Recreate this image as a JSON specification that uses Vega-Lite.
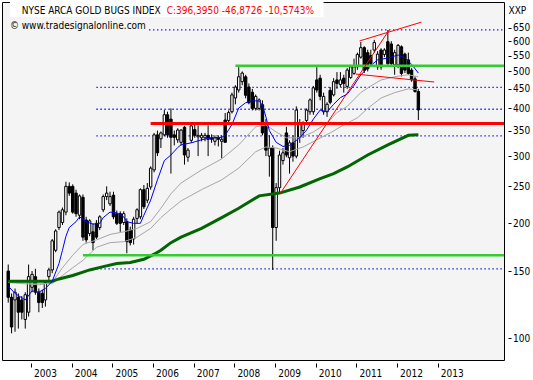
{
"$schema":"https://vega.github.io/schema/vega-lite/v6.json",
"width":502,"height":358,
"autosize":{"type":"none"},
"padding":{"left":2,"top":2,"right":29,"bottom":20},
"background":"white",
"config":{"view":{"stroke":"black","strokeWidth":1,"fill":"#f4f4f4"},"font":"DejaVu Sans Condensed, DejaVu Sans",
"axis":{"labelFont":"DejaVu Sans Condensed, DejaVu Sans","labelFontSize":10,"labelColor":"black","tickColor":"black","domain":false,"grid":false,"titleFont":"DejaVu Sans Condensed, DejaVu Sans","titleFontWeight":"normal","titleFontSize":10,"titleColor":"black"}},
"datasets":{
"k":[
{"d":"2002-04-01","o":150,"h":156,"l":124,"c":128},{"d":"2002-05-01","o":128,"h":131,"l":103,"c":107},{"d":"2002-06-01","o":126,"h":135,"l":104,"c":132},{"d":"2002-07-01","o":128,"h":131,"l":106,"c":117},{"d":"2002-08-01","o":126,"h":129,"l":112,"c":117},{"d":"2002-09-01","o":112,"h":132,"l":106,"c":130},{"d":"2002-10-01","o":117,"h":156,"l":114,"c":145},{"d":"2002-11-01","o":136,"h":150,"l":132,"c":147},{"d":"2002-12-01","o":145,"h":152,"l":130,"c":132},
{"d":"2003-01-01","o":132,"h":135,"l":117,"c":124},{"d":"2003-02-01","o":131,"h":134,"l":120,"c":124},{"d":"2003-03-01","o":126,"h":142,"l":121,"c":140},{"d":"2003-04-01","o":145,"h":153,"l":140,"c":151},{"d":"2003-05-01","o":151,"h":182,"l":148,"c":180},{"d":"2003-06-01","o":170,"h":193,"l":168,"c":191},{"d":"2003-07-01","o":195,"h":216,"l":192,"c":214},{"d":"2003-08-01","o":201,"h":220,"l":198,"c":217},{"d":"2003-09-01","o":214,"h":257,"l":210,"c":250},{"d":"2003-10-01","o":250,"h":256,"l":236,"c":240},{"d":"2003-11-01","o":250,"h":253,"l":212,"c":214},{"d":"2003-12-01","o":240,"h":245,"l":208,"c":212},
{"d":"2004-01-01","o":210,"h":238,"l":205,"c":236},{"d":"2004-02-01","o":234,"h":238,"l":180,"c":184},{"d":"2004-03-01","o":204,"h":208,"l":178,"c":181},{"d":"2004-04-01","o":188,"h":205,"l":185,"c":203},{"d":"2004-05-01","o":190,"h":200,"l":170,"c":178},{"d":"2004-06-01","o":200,"h":204,"l":182,"c":184},{"d":"2004-07-01","o":195,"h":210,"l":192,"c":208},{"d":"2004-08-01","o":217,"h":238,"l":214,"c":235},{"d":"2004-09-01","o":235,"h":250,"l":230,"c":240},{"d":"2004-10-01","o":225,"h":242,"l":222,"c":235},{"d":"2004-11-01","o":237,"h":242,"l":205,"c":208},{"d":"2004-12-01","o":212,"h":216,"l":198,"c":200},
{"d":"2005-01-01","o":212,"h":215,"l":190,"c":200},{"d":"2005-02-01","o":201,"h":215,"l":198,"c":212},{"d":"2005-03-01","o":202,"h":206,"l":167,"c":179},{"d":"2005-04-01","o":192,"h":196,"l":175,"c":178},{"d":"2005-05-01","o":182,"h":208,"l":176,"c":205},{"d":"2005-06-01","o":206,"h":219,"l":200,"c":217},{"d":"2005-07-01","o":208,"h":247,"l":205,"c":245},{"d":"2005-08-01","o":245,"h":252,"l":218,"c":221},{"d":"2005-09-01","o":230,"h":255,"l":226,"c":247},{"d":"2005-10-01","o":249,"h":282,"l":245,"c":279},{"d":"2005-11-01","o":276,"h":345,"l":272,"c":341},{"d":"2005-12-01","o":341,"h":350,"l":300,"c":306},
{"d":"2006-01-01","o":333,"h":348,"l":315,"c":345},{"d":"2006-02-01","o":341,"h":396,"l":338,"c":385},{"d":"2006-03-01","o":385,"h":392,"l":335,"c":341},{"d":"2006-04-01","o":375,"h":400,"l":270,"c":336},{"d":"2006-05-01","o":341,"h":350,"l":320,"c":336},{"d":"2006-06-01","o":331,"h":355,"l":325,"c":351},{"d":"2006-07-01","o":326,"h":353,"l":320,"c":351},{"d":"2006-08-01","o":357,"h":360,"l":285,"c":302},{"d":"2006-09-01","o":298,"h":315,"l":290,"c":311},{"d":"2006-10-01","o":330,"h":362,"l":325,"c":360},{"d":"2006-11-01","o":352,"h":362,"l":335,"c":340},{"d":"2006-12-01","o":337,"h":361,"l":300,"c":340},
{"d":"2007-01-01","o":335,"h":345,"l":328,"c":340},{"d":"2007-02-01","o":335,"h":345,"l":328,"c":340},{"d":"2007-03-01","o":340,"h":361,"l":300,"c":332},{"d":"2007-04-01","o":335,"h":342,"l":325,"c":332},{"d":"2007-05-01","o":328,"h":340,"l":320,"c":335},{"d":"2007-06-01","o":335,"h":340,"l":318,"c":332},{"d":"2007-07-01","o":328,"h":340,"l":296,"c":332},{"d":"2007-08-01","o":373,"h":389,"l":326,"c":326},{"d":"2007-09-01","o":372,"h":395,"l":368,"c":390},{"d":"2007-10-01","o":392,"h":440,"l":388,"c":434},{"d":"2007-11-01","o":426,"h":460,"l":410,"c":455},{"d":"2007-12-01","o":447,"h":513,"l":440,"c":484},
{"d":"2008-01-01","o":470,"h":500,"l":460,"c":495},{"d":"2008-02-01","o":484,"h":490,"l":425,"c":433},{"d":"2008-03-01","o":455,"h":465,"l":410,"c":414},{"d":"2008-04-01","o":441,"h":450,"l":395,"c":400},{"d":"2008-05-01","o":400,"h":435,"l":395,"c":430},{"d":"2008-06-01","o":400,"h":425,"l":395,"c":421},{"d":"2008-07-01","o":409,"h":420,"l":340,"c":345},{"d":"2008-08-01","o":367,"h":375,"l":300,"c":311},{"d":"2008-09-01","o":300,"h":340,"l":265,"c":315},{"d":"2008-10-01","o":315,"h":320,"l":151,"c":195},{"d":"2008-11-01","o":195,"h":255,"l":180,"c":248},{"d":"2008-12-01","o":248,"h":310,"l":240,"c":302},
{"d":"2009-01-01","o":292,"h":315,"l":285,"c":306},{"d":"2009-02-01","o":345,"h":358,"l":298,"c":302},{"d":"2009-03-01","o":297,"h":330,"l":270,"c":325},{"d":"2009-04-01","o":325,"h":340,"l":290,"c":300},{"d":"2009-05-01","o":300,"h":405,"l":296,"c":396},{"d":"2009-06-01","o":336,"h":375,"l":325,"c":367},{"d":"2009-07-01","o":350,"h":370,"l":335,"c":363},{"d":"2009-08-01","o":372,"h":400,"l":365,"c":396},{"d":"2009-09-01","o":392,"h":425,"l":385,"c":421},{"d":"2009-10-01","o":392,"h":458,"l":385,"c":453},{"d":"2009-11-01","o":475,"h":513,"l":440,"c":447},{"d":"2009-12-01","o":480,"h":490,"l":420,"c":430},
{"d":"2010-01-01","o":392,"h":440,"l":385,"c":430},{"d":"2010-02-01","o":392,"h":415,"l":380,"c":410},{"d":"2010-03-01","o":446,"h":455,"l":410,"c":415},{"d":"2010-04-01","o":434,"h":480,"l":430,"c":470},{"d":"2010-05-01","o":475,"h":498,"l":450,"c":465},{"d":"2010-06-01","o":462,"h":498,"l":455,"c":475},{"d":"2010-07-01","o":480,"h":490,"l":440,"c":465},{"d":"2010-08-01","o":457,"h":510,"l":450,"c":504},{"d":"2010-09-01","o":482,"h":520,"l":478,"c":514},{"d":"2010-10-01","o":494,"h":540,"l":490,"c":514},{"d":"2010-11-01","o":514,"h":560,"l":505,"c":554},{"d":"2010-12-01","o":545,"h":597,"l":540,"c":577},
{"d":"2011-01-01","o":577,"h":582,"l":495,"c":504},{"d":"2011-02-01","o":560,"h":570,"l":500,"c":508},{"d":"2011-03-01","o":550,"h":570,"l":515,"c":525},{"d":"2011-04-01","o":569,"h":605,"l":560,"c":595},{"d":"2011-05-01","o":514,"h":565,"l":505,"c":555},{"d":"2011-06-01","o":569,"h":575,"l":505,"c":514},{"d":"2011-07-01","o":554,"h":575,"l":545,"c":569},{"d":"2011-08-01","o":598,"h":642,"l":520,"c":524},{"d":"2011-09-01","o":590,"h":600,"l":515,"c":524},{"d":"2011-10-01","o":520,"h":570,"l":490,"c":560},{"d":"2011-11-01","o":520,"h":590,"l":510,"c":585},{"d":"2011-12-01","o":580,"h":585,"l":485,"c":494},
{"d":"2012-01-01","o":555,"h":560,"l":495,"c":504},{"d":"2012-02-01","o":536,"h":560,"l":490,"c":494},{"d":"2012-03-01","o":504,"h":510,"l":470,"c":475},{"d":"2012-04-01","o":478,"h":485,"l":440,"c":443},{"d":"2012-05-01","o":443,"h":450,"l":373,"c":396.395}
],
"ma":[
{"s":"b","d":"2002-04-01","v":137},{"s":"b","d":"2002-06-01","v":131},{"s":"b","d":"2002-09-01","v":126},{"s":"b","d":"2002-11-01","v":133},{"s":"b","d":"2003-01-01","v":132},{"s":"b","d":"2003-03-01","v":135},{"s":"b","d":"2003-05-01","v":141},{"s":"b","d":"2003-07-01","v":157},{"s":"b","d":"2003-08-01","v":170},{"s":"b","d":"2003-09-01","v":185},{"s":"b","d":"2003-10-01","v":195},{"s":"b","d":"2003-12-01","v":202},{"s":"b","d":"2004-01-01","v":208},{"s":"b","d":"2004-03-01","v":202},{"s":"b","d":"2004-05-01","v":199},{"s":"b","d":"2004-07-01","v":200},{"s":"b","d":"2004-08-01","v":207},{"s":"b","d":"2004-10-01","v":214},{"s":"b","d":"2004-12-01","v":213},{"s":"b","d":"2005-02-01","v":208},{"s":"b","d":"2005-03-01","v":202},{"s":"b","d":"2005-05-01","v":200},{"s":"b","d":"2005-07-01","v":200},{"s":"b","d":"2005-08-01","v":210},{"s":"b","d":"2005-10-01","v":230},{"s":"b","d":"2005-12-01","v":260},{"s":"b","d":"2006-02-01","v":292},{"s":"b","d":"2006-04-01","v":302},{"s":"b","d":"2006-06-01","v":316},{"s":"b","d":"2006-07-01","v":321},{"s":"b","d":"2006-10-01","v":325},{"s":"b","d":"2007-01-01","v":331},{"s":"b","d":"2007-04-01","v":335},{"s":"b","d":"2007-07-01","v":336},{"s":"b","d":"2007-08-01","v":340},{"s":"b","d":"2007-10-01","v":363},{"s":"b","d":"2007-12-01","v":401},{"s":"b","d":"2008-02-01","v":414},{"s":"b","d":"2008-04-01","v":419},{"s":"b","d":"2008-06-01","v":418},{"s":"b","d":"2008-07-01","v":408},{"s":"b","d":"2008-08-01","v":380},{"s":"b","d":"2008-09-01","v":350},{"s":"b","d":"2008-11-01","v":326},{"s":"b","d":"2009-01-01","v":318},{"s":"b","d":"2009-03-01","v":320},{"s":"b","d":"2009-06-01","v":335},{"s":"b","d":"2009-08-01","v":351},{"s":"b","d":"2009-10-01","v":375},{"s":"b","d":"2009-12-01","v":396},{"s":"b","d":"2010-02-01","v":392},{"s":"b","d":"2010-04-01","v":410},{"s":"b","d":"2010-06-01","v":427},{"s":"b","d":"2010-08-01","v":436},{"s":"b","d":"2010-10-01","v":460},{"s":"b","d":"2010-12-01","v":490},{"s":"b","d":"2011-02-01","v":510},{"s":"b","d":"2011-05-01","v":536},{"s":"b","d":"2011-08-01","v":542},{"s":"b","d":"2011-11-01","v":552},{"s":"b","d":"2012-01-01","v":543},{"s":"b","d":"2012-03-01","v":522},{"s":"b","d":"2012-05-01","v":495},
{"s":"g1","d":"2002-04-01","v":140},{"s":"g1","d":"2003-01-01","v":138},{"s":"g1","d":"2003-05-01","v":140},{"s":"g1","d":"2003-08-01","v":153},{"s":"g1","d":"2003-11-01","v":165},{"s":"g1","d":"2004-02-01","v":176},{"s":"g1","d":"2004-06-01","v":181},{"s":"g1","d":"2004-10-01","v":187},{"s":"g1","d":"2005-02-01","v":190},{"s":"g1","d":"2005-06-01","v":194},{"s":"g1","d":"2005-10-01","v":202},{"s":"g1","d":"2006-01-01","v":219},{"s":"g1","d":"2006-04-01","v":239},{"s":"g1","d":"2006-07-01","v":255},{"s":"g1","d":"2007-01-01","v":276},{"s":"g1","d":"2007-07-01","v":295},{"s":"g1","d":"2007-12-01","v":321},{"s":"g1","d":"2008-05-01","v":358},{"s":"g1","d":"2008-08-01","v":362},{"s":"g1","d":"2008-11-01","v":347},{"s":"g1","d":"2009-02-01","v":335},{"s":"g1","d":"2009-06-01","v":335},{"s":"g1","d":"2009-10-01","v":347},{"s":"g1","d":"2010-02-01","v":366},{"s":"g1","d":"2010-05-01","v":390},{"s":"g1","d":"2010-08-01","v":405},{"s":"g1","d":"2010-12-01","v":440},{"s":"g1","d":"2011-03-01","v":458},{"s":"g1","d":"2011-06-01","v":475},{"s":"g1","d":"2011-11-01","v":486},{"s":"g1","d":"2012-02-01","v":490},{"s":"g1","d":"2012-05-01","v":484},
{"s":"g2","d":"2002-04-01","v":140},{"s":"g2","d":"2003-05-01","v":139},{"s":"g2","d":"2003-08-01","v":146},{"s":"g2","d":"2003-11-01","v":153},{"s":"g2","d":"2004-02-01","v":160},{"s":"g2","d":"2004-06-01","v":173},{"s":"g2","d":"2004-10-01","v":178},{"s":"g2","d":"2005-02-01","v":179},{"s":"g2","d":"2005-06-01","v":184},{"s":"g2","d":"2005-10-01","v":194},{"s":"g2","d":"2006-01-01","v":207},{"s":"g2","d":"2006-04-01","v":218},{"s":"g2","d":"2006-07-01","v":229},{"s":"g2","d":"2007-01-01","v":245},{"s":"g2","d":"2007-07-01","v":260},{"s":"g2","d":"2007-12-01","v":279},{"s":"g2","d":"2008-05-01","v":308},{"s":"g2","d":"2008-08-01","v":317},{"s":"g2","d":"2008-11-01","v":315},{"s":"g2","d":"2009-03-01","v":308},{"s":"g2","d":"2009-07-01","v":317},{"s":"g2","d":"2009-11-01","v":331},{"s":"g2","d":"2010-03-01","v":345},{"s":"g2","d":"2010-07-01","v":362},{"s":"g2","d":"2010-11-01","v":378},{"s":"g2","d":"2011-02-01","v":400},{"s":"g2","d":"2011-06-01","v":426},{"s":"g2","d":"2011-10-01","v":440},{"s":"g2","d":"2012-02-01","v":450},{"s":"g2","d":"2012-05-01","v":447},
{"s":"gr","d":"2002-04-01","v":141},{"s":"gr","d":"2003-05-01","v":141},{"s":"gr","d":"2003-07-01","v":143},{"s":"gr","d":"2003-11-01","v":146},{"s":"gr","d":"2004-02-01","v":149},{"s":"gr","d":"2004-04-01","v":151},{"s":"gr","d":"2004-08-01","v":154},{"s":"gr","d":"2004-12-01","v":157},{"s":"gr","d":"2005-04-01","v":158},{"s":"gr","d":"2005-08-01","v":161},{"s":"gr","d":"2005-11-01","v":166},{"s":"gr","d":"2006-01-01","v":170},{"s":"gr","d":"2006-04-01","v":178},{"s":"gr","d":"2006-07-01","v":184},{"s":"gr","d":"2007-01-01","v":194},{"s":"gr","d":"2007-07-01","v":207},{"s":"gr","d":"2007-12-01","v":219},{"s":"gr","d":"2008-06-01","v":236},{"s":"gr","d":"2008-12-01","v":240},{"s":"gr","d":"2009-06-01","v":249},{"s":"gr","d":"2009-12-01","v":262},{"s":"gr","d":"2010-04-01","v":270},{"s":"gr","d":"2010-08-01","v":281},{"s":"gr","d":"2011-02-01","v":302},{"s":"gr","d":"2011-08-01","v":321},{"s":"gr","d":"2012-02-01","v":340},{"s":"gr","d":"2012-05-01","v":341}
],
"hl":[
{"k":"dot","d":"2005-09-17","v":642},{"k":"dot","d":"2004-06-01","v":454},{"k":"dot","d":"2004-06-01","v":398},{"k":"dot","d":"2004-06-01","v":339},{"k":"dot","d":"2004-06-01","v":152},
{"k":"green","d":"2007-11-01","v":517},{"k":"green","d":"2004-02-01","v":165},
{"k":"red","d":"2005-10-01","v":365}
],
"tl":[
{"g":"a","d":"2008-12-10","v":240},{"g":"a","d":"2011-08-13","v":642},
{"g":"b","d":"2010-11-20","v":601},{"g":"b","d":"2012-05-28","v":673},
{"g":"c","d":"2010-10-18","v":492},{"g":"c","d":"2012-09-20","v":469}
],
"tx":[
{"t":"NYSE ARCA GOLD BUGS INDEX","col":"black","line":1,"d":"2002-07-31","v":707},
{"t":"C:396,3950 -46,8726 -10,5743%","col":"red","line":1,"d":"2006-02-22","v":707},
{"t":"© www.tradesignalonline.com","col":"black","line":2,"d":"2002-04-16","v":646}
],
"box":[{"d":"2002-04-16","d2":"2010-01-01","v":760,"v2":694}]
},
"encoding":{
 "x":{"field":"d","type":"temporal","scale":{"type":"time","nice":false,"domain":[{"year":2002,"month":3,"date":21},{"year":2014,"month":4,"date":25}]},
   "axis":{"orient":"bottom","title":null,"values":[{"year":2003},{"year":2004},{"year":2005},{"year":2006},{"year":2007},{"year":2008},{"year":2009},{"year":2010},{"year":2011},{"year":2012},{"year":2013}],"format":"%Y","offset":3,"tickSize":4,"labelPadding":1,"labelAlign":"left","labelBaseline":"top","tickOffset":-7.8,"labelOffset":2.5,"labelOverlap":false,"labelFlush":false}},
 "y":{"field":"v","type":"quantitative","scale":{"type":"log","nice":false,"domain":[87.7,760]},
   "axis":{"orient":"right","title":"XXP","titleAngle":0,"titleX":0,"titleY":8,"titleAlign":"left","titleBaseline":"middle","values":[100,150,200,250,300,350,400,450,500,550,600,650],"format":"d","offset":4,"tickSize":3,"labelPadding":1.5,"labelOverlap":false,"labelFlush":false}}
},
"layer":[
{"data":{"name":"box"},
 "mark":{"type":"rect","fill":"white","clip":true},
 "encoding":{"x2":{"field":"d2"},"y2":{"field":"v2"}}},
{"data":{"name":"hl"},"transform":[{"filter":"datum.k == 'dot'"}],
 "mark":{"type":"rule","color":"#0000ff","strokeWidth":1.3,"strokeDash":[1.3,2.7],"clip":true},
 "encoding":{"x2":{"datum":{"year":2015,"month":1,"date":1}}}},
{"data":{"name":"k"},
 "mark":{"type":"rule","color":"black","strokeWidth":1,"clip":true},
 "encoding":{
  "y":{"field":"l","type":"quantitative","scale":{"type":"log","nice":false,"domain":[87.7,760]},
   "axis":{"orient":"right","title":"XXP","titleAngle":0,"titleX":0,"titleY":8,"titleAlign":"left","titleBaseline":"middle","values":[100,150,200,250,300,350,400,450,500,550,600,650],"format":"d","offset":4,"tickSize":3,"labelPadding":1.5,"labelOverlap":false,"labelFlush":false}},
  "y2":{"field":"h"}}},
{"data":{"name":"k"},
 "mark":{"type":"bar","width":2.4,"stroke":"black","strokeWidth":1,"clip":true},
 "encoding":{
  "y":{"field":"o","type":"quantitative","scale":{"type":"log","nice":false,"domain":[87.7,760]},
   "axis":{"orient":"right","title":"XXP","titleAngle":0,"titleX":0,"titleY":8,"titleAlign":"left","titleBaseline":"middle","values":[100,150,200,250,300,350,400,450,500,550,600,650],"format":"d","offset":4,"tickSize":3,"labelPadding":1.5,"labelOverlap":false,"labelFlush":false}},
  "y2":{"field":"c"},
  "fill":{"condition":{"test":"datum.c > datum.o","value":"white"},"value":"black"}}},
{"data":{"name":"ma"},"transform":[{"filter":"datum.s == 'g1' || datum.s == 'g2'"}],
 "mark":{"type":"line","color":"#a6a6a6","strokeWidth":1,"clip":true},
 "encoding":{"detail":{"field":"s"}}},
{"data":{"name":"ma"},"transform":[{"filter":"datum.s == 'gr'"}],
 "mark":{"type":"line","color":"#006600","strokeWidth":3,"clip":true}},
{"data":{"name":"ma"},"transform":[{"filter":"datum.s == 'b'"}],
 "mark":{"type":"line","color":"#0000ff","strokeWidth":1,"clip":true}},
{"data":{"name":"hl"},"transform":[{"filter":"datum.k != 'dot'"}],
 "mark":{"type":"rule","clip":true},
 "encoding":{
  "x2":{"datum":{"year":2015,"month":1,"date":1}},
  "color":{"field":"k","type":"nominal","scale":{"domain":["green","red"],"range":["#33cc33","#ff0000"]},"legend":null},
  "strokeWidth":{"field":"k","type":"nominal","scale":{"domain":["green","red"],"range":[2.5,3]},"legend":null}}},
{"data":{"name":"tl"},
 "mark":{"type":"line","color":"#ff0000","strokeWidth":1,"clip":true},
 "encoding":{"detail":{"field":"g"}}},
{"data":{"name":"tx"},
 "mark":{"type":"text","align":"left","baseline":"alphabetic","fontSize":10,"clip":true},
 "encoding":{
  "text":{"field":"t"},
  "color":{"field":"col","type":"nominal","scale":null}}}
]
}
